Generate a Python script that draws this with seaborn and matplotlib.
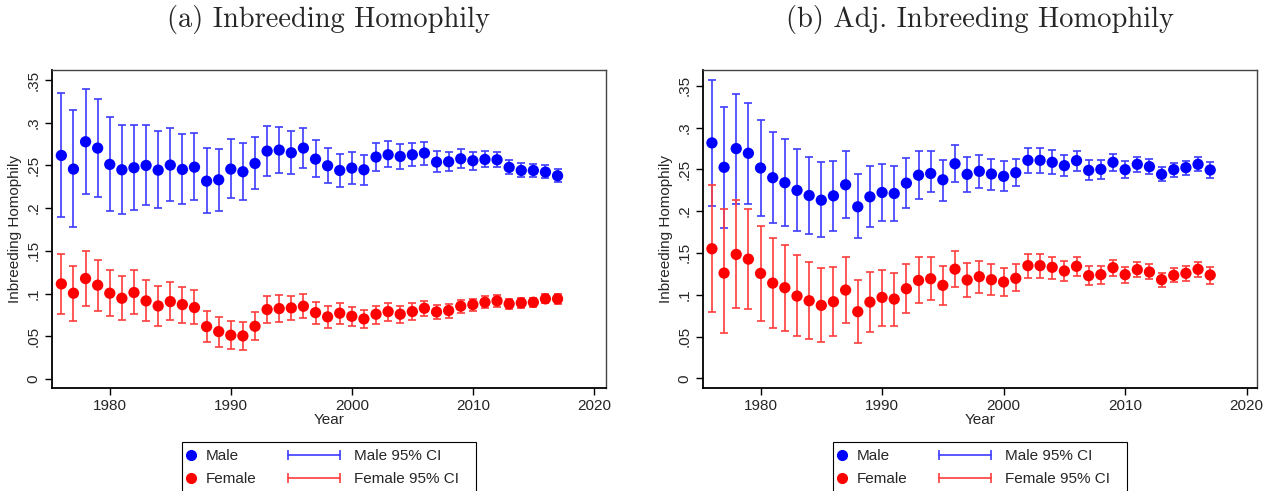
import numpy as np
import pandas as pd
import matplotlib
matplotlib.use('Agg')
import matplotlib.pyplot as plt
from matplotlib.lines import Line2D
from matplotlib.patches import Rectangle
from matplotlib.legend_handler import HandlerLine2D
import seaborn as sns

years = list(range(1976, 2018))

# (a) Inbreeding Homophily
male_a = [0.2617, 0.2457, 0.2777, 0.2703, 0.2512, 0.2449, 0.2473, 0.2500, 0.2445, 0.2504,
          0.2453, 0.2480, 0.2316, 0.2332, 0.2457, 0.2426, 0.2523, 0.2668, 0.2680, 0.2648,
          0.2703, 0.2574, 0.2496, 0.2441, 0.2469, 0.2449, 0.2598, 0.2625, 0.2605, 0.2625,
          0.2645, 0.2539, 0.2543, 0.2578, 0.2555, 0.2570, 0.2566, 0.2477, 0.2441, 0.2441,
          0.2422, 0.2379]
male_a_hi = [0.3348, 0.3145, 0.3398, 0.3280, 0.3063, 0.2977, 0.2973, 0.2969, 0.2898, 0.2934,
             0.2863, 0.2883, 0.2699, 0.2695, 0.2805, 0.2758, 0.2836, 0.2961, 0.2953, 0.2902,
             0.2938, 0.2793, 0.2699, 0.2629, 0.2652, 0.2621, 0.2766, 0.2785, 0.2754, 0.2766,
             0.2773, 0.2668, 0.2660, 0.2688, 0.2660, 0.2668, 0.2656, 0.2566, 0.2523, 0.2516,
             0.2500, 0.2453]
male_a_lo = [0.1902, 0.1777, 0.2160, 0.2129, 0.1965, 0.1930, 0.1984, 0.2031, 0.2000, 0.2078,
             0.2047, 0.2090, 0.1938, 0.1965, 0.2121, 0.2098, 0.2223, 0.2379, 0.2414, 0.2398,
             0.2473, 0.2359, 0.2293, 0.2246, 0.2285, 0.2273, 0.2438, 0.2477, 0.2457, 0.2488,
             0.2508, 0.2418, 0.2430, 0.2473, 0.2449, 0.2477, 0.2480, 0.2395, 0.2363, 0.2367,
             0.2352, 0.2309]
female_a = [0.1113, 0.1004, 0.1176, 0.1098, 0.1004, 0.0945, 0.1012, 0.0914, 0.0855, 0.0906,
            0.0871, 0.0836, 0.0613, 0.0555, 0.0512, 0.0504, 0.0617, 0.0813, 0.0824, 0.0832,
            0.0852, 0.0777, 0.0727, 0.0770, 0.0734, 0.0703, 0.0758, 0.0789, 0.0758, 0.0789,
            0.0828, 0.0785, 0.0801, 0.0852, 0.0871, 0.0898, 0.0914, 0.0879, 0.0891, 0.0898,
            0.0938, 0.0938]
female_a_hi = [0.1461, 0.1324, 0.1496, 0.1391, 0.1281, 0.1211, 0.1270, 0.1156, 0.1086, 0.1133,
               0.1078, 0.1043, 0.0801, 0.0730, 0.0684, 0.0672, 0.0781, 0.0977, 0.0980, 0.0977,
               0.0992, 0.0906, 0.0852, 0.0887, 0.0848, 0.0813, 0.0859, 0.0895, 0.0859, 0.0887,
               0.0918, 0.0871, 0.0883, 0.0930, 0.0941, 0.0969, 0.0980, 0.0941, 0.0949, 0.0953,
               0.0992, 0.0992]
female_a_lo = [0.0766, 0.0684, 0.0859, 0.0797, 0.0734, 0.0688, 0.0758, 0.0680, 0.0625, 0.0688,
               0.0660, 0.0641, 0.0430, 0.0371, 0.0348, 0.0340, 0.0457, 0.0652, 0.0672, 0.0688,
               0.0711, 0.0645, 0.0602, 0.0648, 0.0621, 0.0594, 0.0648, 0.0684, 0.0660, 0.0691,
               0.0738, 0.0703, 0.0719, 0.0777, 0.0797, 0.0832, 0.0848, 0.0820, 0.0832, 0.0840,
               0.0887, 0.0883]

# (b) Adj. Inbreeding Homophily
male_b = [0.2816, 0.2524, 0.2748, 0.2692, 0.2516, 0.2400, 0.2340, 0.2248, 0.2187, 0.2131,
          0.2183, 0.2315, 0.2052, 0.2171, 0.2223, 0.2211, 0.2335, 0.2430, 0.2450, 0.2375,
          0.2567, 0.2440, 0.2476, 0.2444, 0.2416, 0.2460, 0.2608, 0.2608, 0.2584, 0.2544,
          0.2604, 0.2488, 0.2500, 0.2584, 0.2496, 0.2560, 0.2532, 0.2440, 0.2496, 0.2520,
          0.2560, 0.2492]
male_b_hi = [0.3572, 0.3248, 0.3400, 0.3296, 0.3096, 0.2952, 0.2868, 0.2744, 0.2653, 0.2582,
             0.2598, 0.2724, 0.2442, 0.2538, 0.2562, 0.2538, 0.2641, 0.2724, 0.2724, 0.2614,
             0.2792, 0.2652, 0.2676, 0.2628, 0.2596, 0.2628, 0.2760, 0.2752, 0.2728, 0.2676,
             0.2724, 0.2608, 0.2612, 0.2688, 0.2600, 0.2652, 0.2624, 0.2524, 0.2576, 0.2604,
             0.2644, 0.2588]
male_b_lo = [0.2056, 0.1800, 0.2088, 0.2084, 0.1944, 0.1856, 0.1820, 0.1757, 0.1721, 0.1685,
             0.1765, 0.1916, 0.1673, 0.1809, 0.1880, 0.1884, 0.2032, 0.2147, 0.2231, 0.2126,
             0.2344, 0.2224, 0.2280, 0.2256, 0.2240, 0.2296, 0.2452, 0.2460, 0.2444, 0.2416,
             0.2476, 0.2368, 0.2388, 0.2476, 0.2396, 0.2468, 0.2444, 0.2356, 0.2412, 0.2436,
             0.2476, 0.2396]
female_b = [0.1550, 0.1259, 0.1482, 0.1426, 0.1255, 0.1139, 0.1084, 0.0984, 0.0928, 0.0873,
            0.0916, 0.1056, 0.0797, 0.0912, 0.0968, 0.0948, 0.1072, 0.1171, 0.1191, 0.1112,
            0.1306, 0.1176, 0.1216, 0.1180, 0.1152, 0.1196, 0.1348, 0.1348, 0.1328, 0.1284,
            0.1340, 0.1228, 0.1240, 0.1324, 0.1240, 0.1300, 0.1272, 0.1180, 0.1232, 0.1256,
            0.1304, 0.1236]
female_b_hi = [0.2311, 0.2020, 0.2131, 0.2028, 0.1821, 0.1681, 0.1594, 0.1478, 0.1394, 0.1315,
               0.1331, 0.1450, 0.1175, 0.1267, 0.1299, 0.1263, 0.1367, 0.1446, 0.1446, 0.1347,
               0.1523, 0.1384, 0.1407, 0.1364, 0.1324, 0.1364, 0.1491, 0.1483, 0.1455, 0.1407,
               0.1455, 0.1340, 0.1348, 0.1419, 0.1336, 0.1392, 0.1364, 0.1260, 0.1316, 0.1344,
               0.1392, 0.1336]
female_b_lo = [0.0797, 0.0546, 0.0845, 0.0833, 0.0689, 0.0598, 0.0562, 0.0502, 0.0466, 0.0430,
               0.0506, 0.0661, 0.0422, 0.0554, 0.0625, 0.0629, 0.0781, 0.0896, 0.0936, 0.0873,
               0.1093, 0.0970, 0.1025, 0.1001, 0.0985, 0.1041, 0.1200, 0.1204, 0.1188, 0.1160,
               0.1220, 0.1116, 0.1132, 0.1224, 0.1140, 0.1208, 0.1184, 0.1097, 0.1148, 0.1168,
               0.1212, 0.1132]

titles = ['(a) Inbreeding Homophily', '(b) Adj. Inbreeding Homophily']
yticks = [0, 0.05, 0.1, 0.15, 0.2, 0.25, 0.3, 0.35]
ytick_labels = ['0', '.05', '.1', '.15', '.2', '.25', '.3', '.35']
xticks = [1980, 1990, 2000, 2010, 2020]

sns.set_style('white')
plt.rcParams['font.family'] = ['Liberation Sans', 'DejaVu Sans']

BLUE = '#0000ff'
RED = '#ff0000'
BLUE_CI = '#3c3cff'
RED_CI = '#ff3c3c'
FS = 11

fig = plt.figure(figsize=(12.76, 4.91), dpi=100)
ax1 = fig.add_axes([0.0405, 0.2104, 0.4344, 0.647])
ax2 = fig.add_axes([0.5507, 0.2104, 0.4346, 0.647])

panels = [
    (ax1, male_a, male_a_lo, male_a_hi, female_a, female_a_lo, female_a_hi, (-0.0102, 0.3617), (1975.2, 2021.0)),
    (ax2, male_b, male_b_lo, male_b_hi, female_b, female_b_lo, female_b_hi, (-0.0112, 0.3688), (1975.24, 2020.87)),
]

for i, (ax, m, mlo, mhi, f, flo, fhi, ylim, xlim) in enumerate(panels):
    df = pd.DataFrame({'Year': years * 2,
                       'value': m + f,
                       'lo': mlo + flo,
                       'hi': mhi + fhi,
                       'sex': ['Male'] * len(years) + ['Female'] * len(years)})
    for sex, col in [('Male', BLUE_CI), ('Female', RED_CI)]:
        d = df[df.sex == sex]
        ax.errorbar(d.Year, d.value, yerr=[d.value - d.lo, d.hi - d.value], fmt='none',
                    ecolor=col, elinewidth=1.2, capsize=3.2, capthick=1.2, zorder=2)
    sns.scatterplot(data=df, x='Year', y='value', hue='sex', palette={'Male': BLUE, 'Female': RED},
                    s=66, edgecolor='none', linewidth=0, legend=False, ax=ax, zorder=3)

    ax.set_xlim(*xlim)
    ax.set_ylim(*ylim)
    ax.set_xticks(xticks)
    ax.set_yticks(yticks)
    ax.set_yticklabels(ytick_labels, rotation=90, va='center')
    ax.tick_params(axis='both', direction='out', length=5, width=1, color='black',
                   labelsize=FS, pad=3, bottom=True, left=True)
    ax.set_xlabel('Year', fontsize=FS, labelpad=0)
    ax.set_ylabel('Inbreeding Homophily', fontsize=FS, labelpad=3)
    for s in ['left', 'bottom']:
        ax.spines[s].set_color('black')
        ax.spines[s].set_linewidth(1.3)
    for s in ['top', 'right']:
        ax.spines[s].set_color('#444444')
        ax.spines[s].set_linewidth(1.0)
    ax.set_title(titles[i], fontfamily='cmr10', fontsize=20.5, y=1.11)

    # legend box below the axes
    ax.add_patch(Rectangle((0.2351, -0.335), 0.5304, 0.165, transform=ax.transAxes,
                           fill=False, edgecolor='black', linewidth=0.8, clip_on=False))
    dots = [Line2D([0], [0], marker='o', color=BLUE, linestyle='none', markersize=7),
            Line2D([0], [0], marker='o', color=RED, linestyle='none', markersize=7)]
    cis = [Line2D([0], [0], marker='|', color=BLUE_CI, lw=1.2, markersize=7, markeredgewidth=1.2),
           Line2D([0], [0], marker='|', color=RED_CI, lw=1.2, markersize=7, markeredgewidth=1.2)]
    leg1 = ax.legend(dots, ['Male', 'Female'], loc='upper left', bbox_to_anchor=(0.2376, -0.193),
                     frameon=False, fontsize=FS, handlelength=1.0, handletextpad=0.45,
                     borderpad=0, borderaxespad=0, labelspacing=0.6, numpoints=1)
    ax.add_artist(leg1)
    ax.legend(cis, ['Male 95% CI', 'Female 95% CI'], loc='upper left', bbox_to_anchor=(0.4173, -0.193),
              frameon=False, fontsize=FS, handlelength=4.0, handletextpad=0.62,
              borderpad=0, borderaxespad=0, labelspacing=0.6,
              handler_map={h: HandlerLine2D(numpoints=2) for h in cis})

fig.savefig('out.png', dpi=100)
